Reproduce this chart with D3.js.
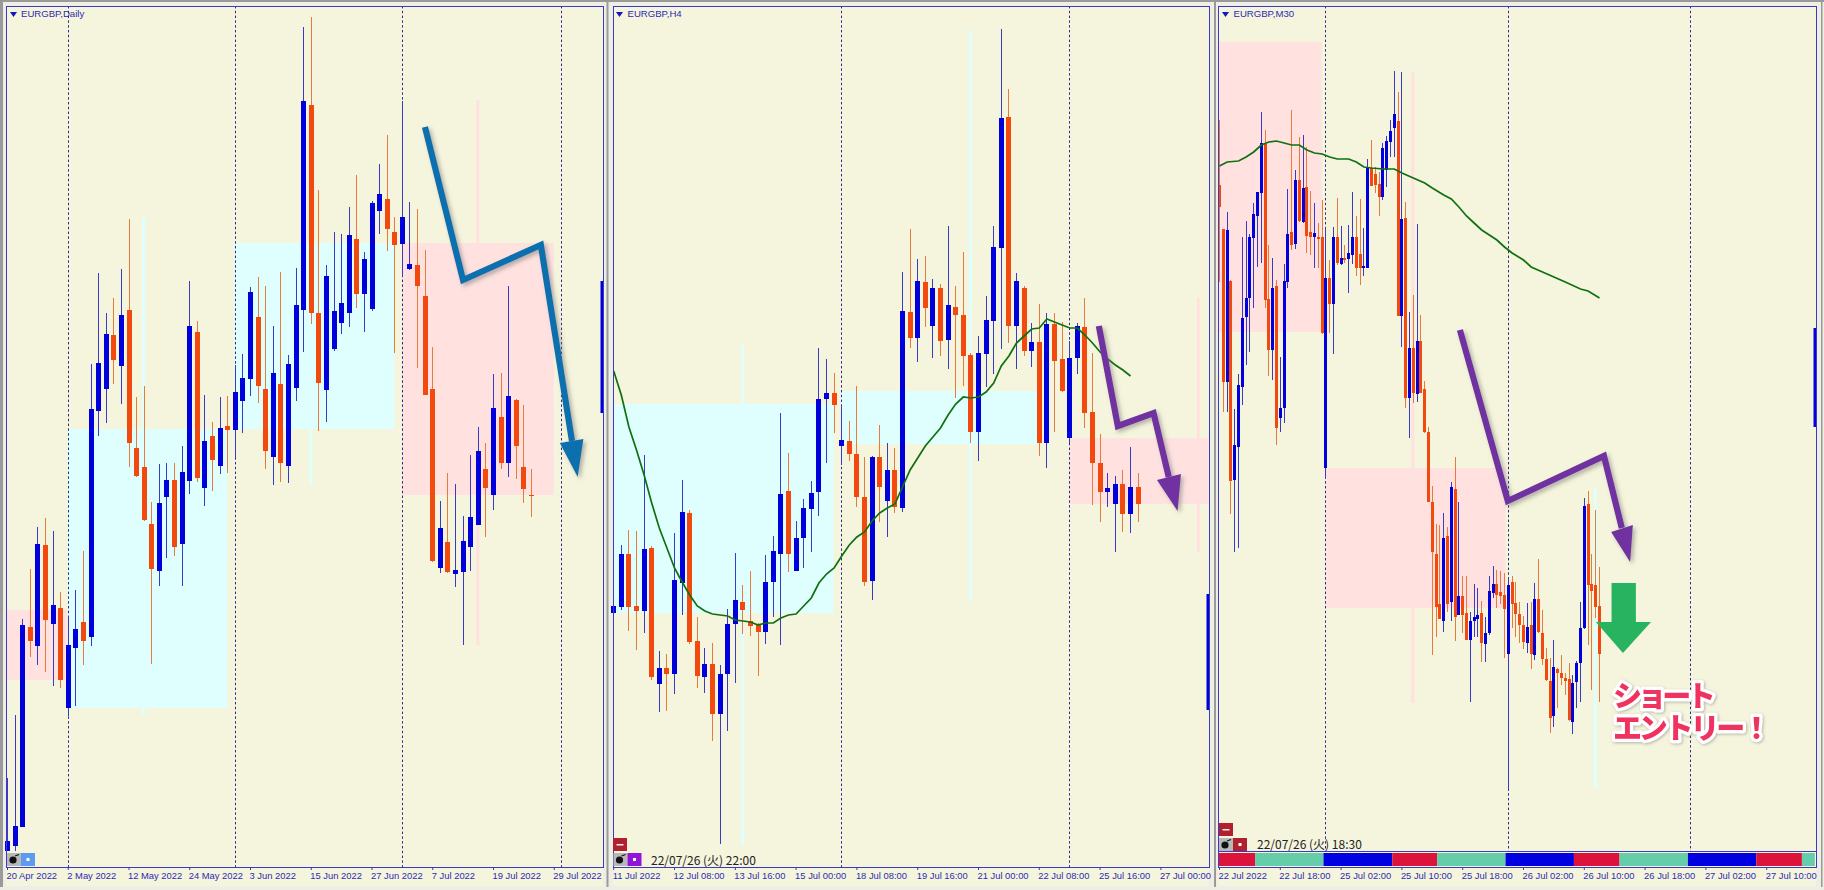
<!DOCTYPE html>
<html><head><meta charset="utf-8">
<script src="https://cdn.jsdelivr.net/npm/d3@7"></script>
<style>html,body{margin:0;padding:0;background:#eeeee4;overflow:hidden}svg{display:block}</style>
</head><body><svg id="c" width="1824" height="890"></svg>
<script>
// Bars: [open, high, low, close] in chart points (no price axis is shown)
const dailyBars=[[39,112,39,49],[44,175,39,64],[63,271,63,265],[263,321,233,249],[244,363,225,346],[345,372,218,270],[266,359,204,285],[282,298,202,210],[182,274,174,245],[242,300,184,261],[268,339,225,249],[253,526,244,481],[479,617,454,527],[501,577,467,556],[555,592,506,530],[524,621,486,575],[580,671,423,447],[442,493,413,414],[423,504,369,370],[366,388,226,321],[319,426,304,387],[393,427,332,410],[410,427,334,343],[346,444,304,418],[409,609,396,564],[558,569,408,412],[402,495,384,449],[454,468,399,430],[424,493,416,462],[464,494,417,460],[460,525,432,498],[489,536,457,512],[511,603,494,598],[573,613,487,504],[501,604,421,439],[433,564,405,517],[506,618,408,427],[424,535,407,526],[502,622,489,585],[580,863,538,789],[785,873,566,577],[577,700,459,507],[500,625,468,614],[541,658,539,579],[567,656,556,587],[577,683,563,655],[651,715,582,596],[596,638,558,631],[581,689,579,687],[679,726,656,696],[691,755,639,661],[658,673,537,645],[646,789,613,673],[621,688,620,626],[625,681,522,604],[594,640,495,495],[501,543,328,329],[322,389,317,362],[348,417,317,318],[316,406,303,320],[318,374,245,349],[343,435,319,373],[365,463,365,439],[421,447,353,402],[395,516,380,482],[473,517,421,427],[427,604,413,494],[490,491,411,444],[423,485,387,401],[395,421,373,394]];
const h4Bars=[[277,326,263,284],[283,345,280,336],[336,360,259,283],[284,359,240,279],[279,435,257,341],[342,344,210,213],[206,239,178,222],[222,236,179,216],[216,357,196,310],[307,410,275,378],[377,380,246,248],[249,273,202,214],[213,242,197,226],[226,247,149,176],[176,225,46,216],[216,281,159,266],[266,337,207,290],[288,305,256,280],[269,319,254,264],[266,267,214,258],[258,335,246,308],[308,354,273,339],[336,477,245,396],[399,437,318,336],[319,369,319,352],[352,391,322,382],[381,409,338,397],[398,542,374,491],[491,531,427,497],[497,517,457,485],[444,483,425,450],[449,469,429,436],[436,504,383,393],[393,433,304,308],[309,434,290,433],[433,465,368,403],[389,447,353,420],[420,442,377,383],[382,618,378,579],[578,661,542,552],[552,631,528,609],[608,634,563,582],[564,611,532,602],[602,606,534,549],[550,664,521,585],[583,604,492,575],[575,638,504,534],[535,537,447,458],[458,554,429,537],[536,594,503,570],[569,664,516,643],[642,861,541,772],[773,801,547,564],[564,617,521,609],[602,604,534,539],[539,567,523,548],[548,586,434,447],[447,577,422,566],[566,577,458,529],[531,568,498,499],[452,549,447,532],[532,567,516,564],[563,592,462,477],[478,537,385,427],[427,456,368,398],[398,417,383,402],[386,414,338,406],[406,420,358,376],[376,443,357,403],[403,417,368,386]];
const m30Bars=[[705,770,608,683],[661,661,478,508],[508,678,478,660],[609,610,376,409],[410,481,338,445],[443,516,342,505],[503,653,485,572],[573,669,525,592],[592,656,538,653],[652,687,582,676],[674,698,623,698],[697,778,627,747],[746,760,582,590],[591,645,514,540],[540,632,510,602],[604,610,445,462],[472,533,458,482],[482,626,467,609],[608,701,602,656],[658,780,640,645],[646,720,641,710],[710,753,668,669],[668,755,667,702],[703,743,637,654],[658,699,635,653],[653,687,622,657],[653,667,622,651],[653,690,556,557],[422,663,412,612],[612,630,557,586],[586,663,536,653],[653,692,625,627],[626,664,625,632],[632,645,627,630],[631,665,597,637],[635,698,626,653],[653,674,614,622],[636,691,605,622],[622,662,614,624],[622,731,622,722],[722,750,704,704],[716,723,697,705],[706,718,674,693],[693,747,690,742],[720,754,703,749],[748,770,733,759],[762,819,733,776],[769,798,574,574],[574,818,543,671],[672,688,482,492],[492,578,452,542],[542,595,487,497],[496,666,488,549],[549,575,497,497],[501,509,457,458],[458,463,388,388],[388,404,235,338],[336,366,253,283],[286,365,271,271],[269,377,258,352],[354,363,278,286],[288,408,269,403],[401,433,249,273],[275,388,275,294],[294,314,257,275],[277,314,250,250],[250,278,188,269],[269,306,253,273],[271,302,253,275],[277,289,228,247],[246,273,228,257],[257,314,255,299],[297,324,292,306],[306,320,282,295],[298,319,286,294],[295,317,232,281],[236,313,101,305],[308,314,262,286],[287,308,253,276],[276,288,247,265],[265,274,241,248],[247,287,237,263],[265,288,221,236],[235,307,230,291],[291,331,257,258],[257,280,225,231],[231,242,209,210],[209,232,157,172],[174,250,163,223],[221,222,182,217],[217,235,205,212],[212,217,195,209],[211,227,169,170],[168,215,156,207],[208,229,182,227],[227,288,188,262],[262,392,261,384],[386,399,245,305],[306,336,200,299],[305,380,272,283],[284,323,188,236]];
// Moving averages
const h4Ma=[519,495,463,440,415,387,362,342,322,308,295,284,279,276,275,274,270,269,268,265,267,267,272,275,276,284,292,307,316,322,334,345,353,358,369,377,382,386,403,420,432,444,453,462,475,486,493,492,493,498,507,524,534,547,554,561,562,571,568,565,562,562,555,547,538,531,525,520,514];
const m30MaIndex=[0,2,5,7,9,11,13,15,17,19,21,23,25,27,29,31,34,36,38,40,43,46,48,51,54,56,59,61,63,65,67,69,71,73,75,77,80,82,85,88,91,95,97,100];
const m30MaValue=[724,728,729,733,738,745,748,749,747,745,745,740,737,736,733,731,731,728,723,722,721,721,717,712,707,702,695,691,683,674,667,660,655,650,643,637,630,623,618,613,608,601,599,592];
// Tick labels
const dailyTicks=["20 Apr 2022","2 May 2022","12 May 2022","24 May 2022","3 Jun 2022","15 Jun 2022","27 Jun 2022","7 Jul 2022","19 Jul 2022","29 Jul 2022"];
const h4Ticks=["11 Jul 2022","12 Jul 08:00","13 Jul 16:00","15 Jul 00:00","18 Jul 08:00","19 Jul 16:00","21 Jul 00:00","22 Jul 08:00","25 Jul 16:00","27 Jul 00:00"];
const m30Ticks=["22 Jul 2022","22 Jul 18:00","25 Jul 02:00","25 Jul 10:00","25 Jul 18:00","26 Jul 02:00","26 Jul 10:00","26 Jul 18:00","27 Jul 02:00","27 Jul 10:00"];
// Zones: [fromBar, toBar, top, bottom, kind]
const dailyZones=[[0,8,280,210,"p"],[8,29,461,182,"c"],[30,51,647,461,"c"],[52,72,647,395,"p"]];
const h4Zones=[[0,29,486,277,"c"],[30,56,499,446,"c"],[60,78.3,452,386,"p"]];
const m30Zones=[[0,27,848,558,"p"],[28,75.4,422,282,"p"]];
// Higher timeframe wicks: [bar, top, bottom, kind]
const dailyGhosts=[[18,673,175,"c"],[40,461,405,"c"],[62,790,245,"p"]];
const h4Ghosts=[[17,545,45,"c"],[47,860,290,"c"],[77,592,338,"p"]];
const m30Ghosts=[[51,818,187,"p"],[99,402,102,"c"]];
// Period separators, by bar
const dailySeps=[8,30,52,73];
const h4Seps=[30,60];
const m30Seps=[28,76,124];
// Last-bar marks at the right edge: [top, bottom]
const dailyEdge=[609,477];
const h4Edge=[296,180];
const m30Edge=[562,463];
// Session strip: [fromBar, toBar, kind]
const m30Sessions=[[0,9.5,"r"],[9.5,27.5,"g"],[27.5,45.6,"b"],[45.6,57.4,"r"],[57.4,75.4,"g"],[75.4,93.4,"b"],[93.4,105.4,"r"],[105.4,123.4,"g"],[123.4,141.4,"b"],[141.4,153.4,"r"],[153.4,156.8,"g"]];
// Arrows drawn on the charts, in [bar, value]
const dailyArrow=[[55.04,763],[60.05,610],[70.3,645],[74.4,449]];
const dailyHead=[[72.8,447],[75.9,451],[75.15,413]];
const h4Arrow=[[63.9,564],[66.4,464],[71.1,477],[73.1,413]];
const h4Head=[[71.55,410],[74.7,416],[74.26,379]];
const m30Arrow=[[63.4,560],[76,389],[101.3,434],[106,362]];
const m30Head=[[103.2,358],[108.9,365],[108.2,328]];
const entryArrow=[[103.3,307],[109.7,307],[109.7,268],[113.7,268],[106.3,237],[99.2,268],[103.3,268]];

const UP="#0000dc",DOWN="#f24a0e",UPW="#3a3ac8",DOWNW="#e87a3c",BG="#f5f4dc",FRAME="#3a3ac4",TXT="#2c2cb4";
const ZC={p:"#ffe2e0",c:"#dfffff"};
const SC={r:"#dc143c",g:"#66cdaa",b:"#0000e0"};
const svg=d3.select("#c");
const defs=svg.append("defs");
const f=defs.append("filter").attr("id","sh").attr("x","-20%").attr("y","-20%").attr("width","150%").attr("height","150%");
f.append("feDropShadow").attr("dx",2.5).attr("dy",2.5).attr("stdDeviation",2).attr("flood-color","#777").attr("flood-opacity",.55);
const f2=defs.append("filter").attr("id","sh2").attr("x","-10%").attr("y","-20%").attr("width","120%").attr("height","150%");
f2.append("feDropShadow").attr("dx",1).attr("dy",1).attr("stdDeviation",1.5).attr("flood-color","#888").attr("flood-opacity",.6);

const y=d3.scaleLinear().domain([0,890]).range([890,0]);
const panels=[
 {name:"EURGBP,Daily",fx:6,fw:597,x0:7,step:7.594,bw:5,bars:dailyBars,zones:dailyZones,ghosts:dailyGhosts,seps:dailySeps,edge:dailyEdge,ticks:dailyTicks,tickStep:8,arrow:dailyArrow,head:dailyHead,col:"#0e70ae",tx:21,titleX:10},
 {name:"EURGBP,H4",fx:613,fw:596,x0:613.2,step:7.6,bw:5,bars:h4Bars,zones:h4Zones,ghosts:h4Ghosts,seps:h4Seps,edge:h4Edge,ticks:h4Ticks,tickStep:8,arrow:h4Arrow,head:h4Head,col:"#7030a0",tx:627.5,titleX:616,ma:h4Ma.map((v,i)=>[i,v])},
 {name:"EURGBP,M30",fx:1218,fw:598,x0:1219,step:3.8,bw:3,bars:m30Bars,zones:m30Zones,ghosts:m30Ghosts,seps:m30Seps,edge:m30Edge,ticks:m30Ticks,tickStep:16,arrow:m30Arrow,head:m30Head,col:"#7030a0",tx:1233.5,titleX:1222,ma:m30MaIndex.map((b,i)=>[b,m30MaValue[i]]),sessions:m30Sessions}
];
const FB=867;
// window chrome
svg.append("rect").attr("width",1824).attr("height",2).attr("fill","#9a9a9a");
[[0,3],[606.5,2],[1214,2],[1821,1.5]].forEach(s=>svg.append("rect").attr("x",s[0]).attr("y",0).attr("width",s[1]).attr("height",887).attr("fill","#9a9a9a"));
panels.forEach(p=>{
  const g=svg.append("g");
  const x=d3.scaleLinear().domain([0,100]).range([p.x0,p.x0+100*p.step]);
  const plotB=p.sessions?851:FB;
  g.append("rect").attr("x",p.fx).attr("y",6).attr("width",p.fw).attr("height",880).attr("fill",BG);
  g.selectAll(".z").data(p.zones).join("rect").attr("x",d=>x(d[0])).attr("width",d=>x(d[1])-x(d[0])).attr("y",d=>y(d[2])).attr("height",d=>y(d[3])-y(d[2])).attr("fill",d=>ZC[d[4]]);
  g.selectAll(".gh").data(p.ghosts).join("rect").attr("x",d=>x(d[0])-1.5).attr("width",3).attr("y",d=>y(d[1])).attr("height",d=>y(d[2])-y(d[1])).attr("fill",d=>ZC[d[3]]);
  g.selectAll(".sep").data(p.seps).join("line").attr("x1",d=>Math.round(x(d))+.5).attr("x2",d=>Math.round(x(d))+.5).attr("y1",6).attr("y2",plotB).attr("stroke","#26268e").attr("stroke-dasharray","2.4,2.4").attr("stroke-width",1);
  const c=g.selectAll(".k").data(p.bars).join("g");
  c.append("line").attr("x1",(d,i)=>Math.round(x(i))+.5).attr("x2",(d,i)=>Math.round(x(i))+.5).attr("y1",d=>y(d[1])).attr("y2",d=>y(d[2])).attr("stroke",d=>d[3]>d[0]?UPW:DOWNW).attr("stroke-width",1);
  c.append("rect").attr("x",(d,i)=>Math.round(x(i))+.5-p.bw/2).attr("width",p.bw).attr("y",d=>y(Math.max(d[0],d[3]))).attr("height",d=>Math.max(1,Math.abs(d[0]-d[3]))).attr("fill",d=>d[3]>d[0]?UP:DOWN);
  if(p.ma) g.append("path").attr("d",d3.line().x(d=>x(d[0])+.5).y(d=>y(d[1]))(p.ma)).attr("fill","none").attr("stroke","#0f7010").attr("stroke-width",1.7);
  g.append("rect").attr("x",p.fx+p.fw-2.5).attr("width",2.5).attr("y",y(p.edge[0])).attr("height",y(p.edge[1])-y(p.edge[0])).attr("fill",UP);
  if(p.sessions){
    g.selectAll(".s").data(p.sessions).join("rect").attr("x",d=>x(d[0])).attr("width",d=>x(d[1])-x(d[0])).attr("y",853).attr("height",13).attr("fill",d=>SC[d[2]]);
    g.append("line").attr("x1",p.fx).attr("x2",p.fx+p.fw).attr("y1",851.5).attr("y2",851.5).attr("stroke",FRAME);
  }
  g.append("rect").attr("x",p.fx+.5).attr("y",6.5).attr("width",p.fw).attr("height",FB-6).attr("fill","none").attr("stroke",FRAME);
  const ax=d3.axisBottom(x).tickValues(p.ticks.map((_,i)=>i*p.tickStep)).tickFormat((_,i)=>p.ticks[i]).tickSize(3).tickSizeOuter(0);
  const ag=g.append("g").attr("transform",`translate(0,${FB})`).call(ax);
  ag.select(".domain").remove();
  ag.selectAll("line").attr("stroke",FRAME);
  ag.selectAll("text").attr("text-anchor","start").attr("dx",-1).attr("y",5).attr("dy",".71em").attr("fill",TXT).style("font","9.4px 'Liberation Sans',Arial,sans-serif");
  g.append("path").attr("d",`M${p.titleX} 12L${p.titleX+7} 12L${p.titleX+3.5} 17Z`).attr("fill","#1616c0");
  g.append("text").attr("x",p.tx).attr("y",17).text(p.name).attr("fill",TXT).style("font","9.6px 'Liberation Sans',Arial,sans-serif");
  const lg=d3.line().x(d=>x(d[0])).y(d=>y(d[1]));
  const a=g.append("g").attr("filter","url(#sh)");
  a.append("path").attr("d",lg(p.arrow)).attr("fill","none").attr("stroke",p.col).attr("stroke-width",6.2);
  a.append("path").attr("d",lg(p.head)+"Z").attr("fill",p.col);
  p.xs=x;
});
const gx=panels[2].xs;
svg.append("path").attr("d",d3.line().x(d=>gx(d[0])).y(d=>y(d[1]))(entryArrow)+"Z").attr("fill","#27b35f");
// entry text
const et=svg.append("g").attr("filter","url(#sh2)").style("font","900 29px 'Noto Sans CJK JP',sans-serif");
[["ショート",1613,707,-4.4],["エントリー！",1613,739,-3.2]].forEach(t=>{
  et.append("text").attr("x",t[1]).attr("y",t[2]).text(t[0]).attr("letter-spacing",t[3]).attr("fill","#f0305e").attr("stroke","#fff").attr("stroke-width",6.5).attr("stroke-linejoin","round").attr("paint-order","stroke");
});
[["22/07/26 (火) 22:00",651,865],["22/07/26 (火) 18:30",1257,849]].forEach(t=>{
  svg.append("text").attr("x",t[1]).attr("y",t[2]).text(t[0]).attr("fill","#222").style("font","12px 'Noto Sans CJK JP','Liberation Sans',sans-serif");
});
function bomb(xp,yp){svg.append("rect").attr("x",xp).attr("y",yp).attr("width",14).attr("height",13).attr("fill","#b8b8b8");
  svg.append("circle").attr("cx",xp+6).attr("cy",yp+7).attr("r",3.6).attr("fill","#111");
  svg.append("path").attr("d",`M${xp+8} ${yp+3}L${xp+12} ${yp+1.5}`).attr("stroke","#111").attr("stroke-width",1.2);}
function box(xp,yp,c){svg.append("rect").attr("x",xp).attr("y",yp).attr("width",14).attr("height",13).attr("fill",c);
  svg.append("rect").attr("x",xp+5.5).attr("y",yp+5).attr("width",3).attr("height",3).attr("fill","#fff");}
function minus(xp,yp){svg.append("rect").attr("x",xp).attr("y",yp).attr("width",14).attr("height",13).attr("fill","#b0202e");
  svg.append("rect").attr("x",xp+3.5).attr("y",yp+6).attr("width",7).attr("height",1.5).attr("fill","#eee");}
bomb(7,853);box(21,853,"#5c9bf0");
bomb(613.5,853);box(627.5,853,"#9214d8");minus(613,838);
bomb(1219,838);box(1233,838,"#b0202e");minus(1219,823);
</script></body></html>
